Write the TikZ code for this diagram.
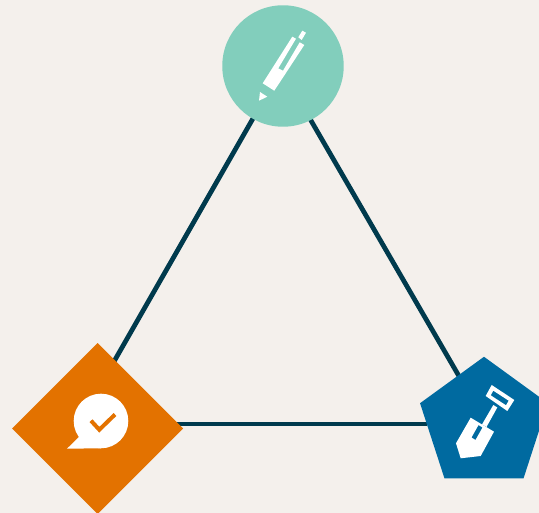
\documentclass[tikz,border=0pt]{standalone}
\usepackage{tikz}
\usetikzlibrary{shapes}
\usetikzlibrary{backgrounds}
\definecolor{paper}{HTML}{F4F0EC}
\definecolor{mint}{HTML}{82CEBC}
\definecolor{carrot}{HTML}{E37200}
\definecolor{ocean}{HTML}{006AA0}
\definecolor{ink}{HTML}{003A4D}
\tikzset{
    pic unit/.style = {x=0.02cm,y=-0.02cm},
    mynode/.style = {inner sep=0pt,outer sep=0pt,text width=0pt},
    edgen/.style = {line width=0.095cm,ink},
    iconw/.style = {fill=white,draw=none},
}
\begin{document}
\begin{tikzpicture}[pic unit]
  \useasboundingbox (0,0) rectangle (539,513);
  \clip (0,0) rectangle (539,513);

  \node[mynode,circle,fill=mint,minimum size=2.43cm] at (283,66) (pen) {};
  \node[mynode,diamond,fill=carrot,minimum size=3.42cm] at (97.7,428.5) (talk) {};
  \node[mynode,regular polygon,regular polygon sides=5,fill=ocean,minimum size=2.69cm] at (484,424) (shovel) {};

  \begin{scope}[on background layer]
    \fill[paper] (0,0) rectangle (539,513);
    \draw[edgen] (pen.center) -- ([xshift=-0.44cm]talk.center);
    \draw[edgen] ([xshift=-0.072cm]pen.center) -- ([xshift=0.054cm]shovel.center);
    \draw[edgen] (shovel) -- (talk |- shovel);
  \end{scope}

  % pen
  \fill[iconw] (259,100.7) -- (260,92) -- (267.3,96.7) -- cycle;
  \fill[iconw] (262.7,83.3) -- (292.3,36.7) -- (296,38.7) -- (278.3,68.3) -- (283,70.7) -- (299.7,42.3) -- (304.3,45) -- (274.3,90.7) -- cycle;
  \fill[iconw] (298.3,37.3) -- (302.3,30.7) -- (306,32.7) -- (301.7,40) -- cycle;

  % bubble
  \fill[iconw] (101,421) circle[radius=27.3];
  \fill[iconw] (67,448.7) -- (79,437) -- (101,421) -- (101,448.3) -- cycle;
  \draw[carrot,line width=0.08cm] (91,420.7) -- (99.3,429.7) -- (115,414.5);

  % shovel
  \fill[iconw,even odd rule] (491.7,385) -- (514.3,400) -- (507.3,411) -- (485.7,396) -- cycle
     (493.3,390.7) -- (508.7,400.7) -- (506,405.3) -- (490.7,395.3) -- cycle;
  \fill[iconw] (493.3,405) -- (497.3,407.5) -- (486.5,427) -- (482,424.5) -- cycle;
  \fill[iconw,even odd rule] (470.7,417.7) -- (494,431.7) -- (480.7,456) -- (460.7,458.3) -- (456,443.3) -- cycle
     (478.5,425) -- (482.5,427.5) -- (475.5,440) -- (471.5,437.5) -- cycle;
\end{tikzpicture}
\end{document}
